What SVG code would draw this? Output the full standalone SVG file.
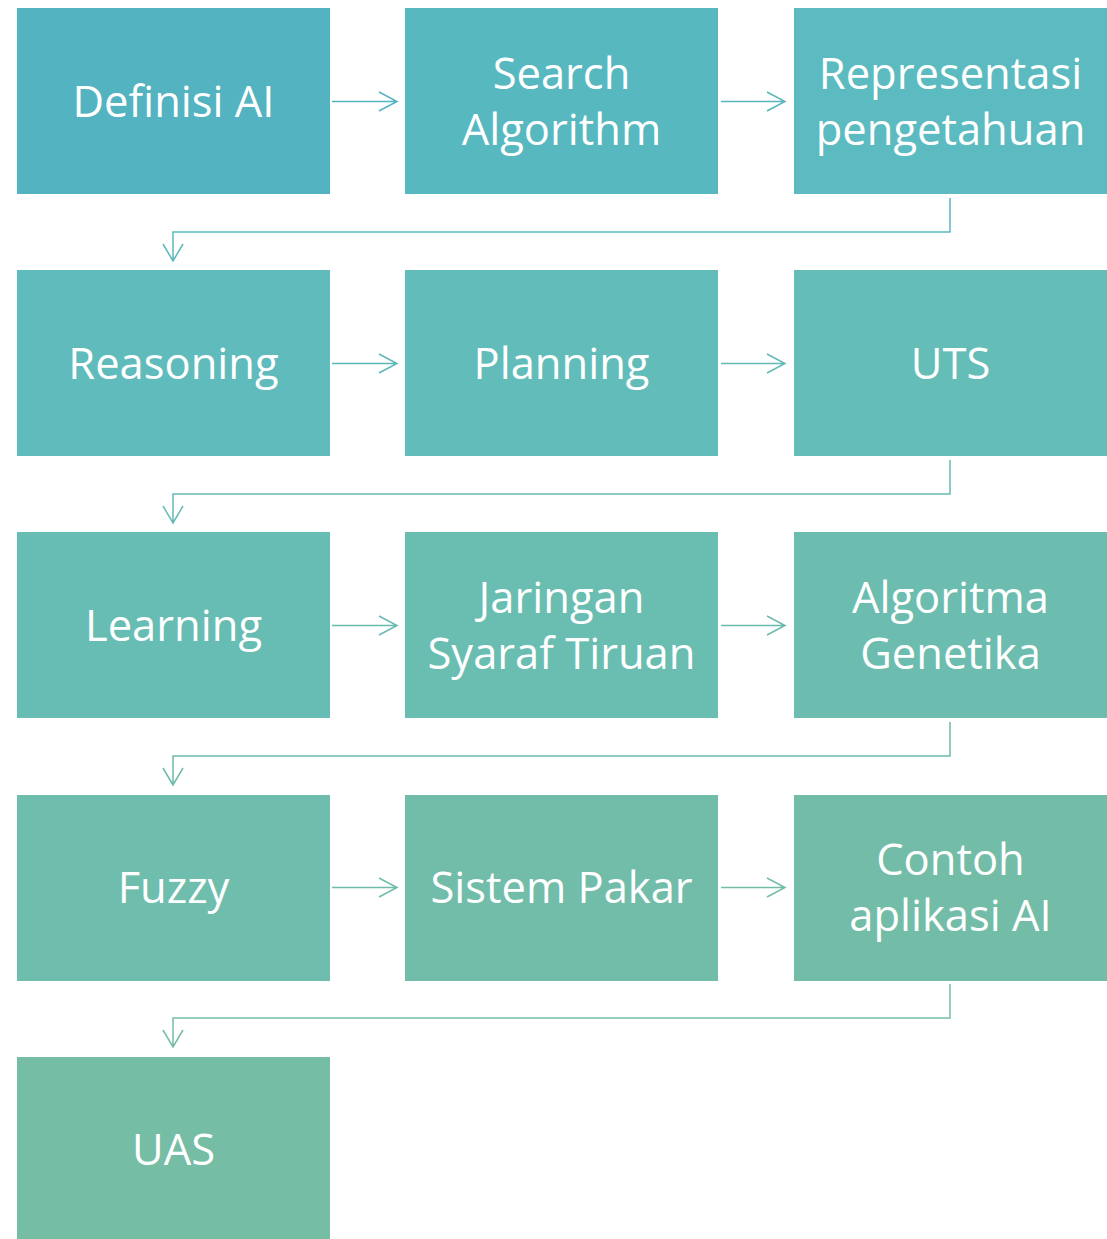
<svg xmlns="http://www.w3.org/2000/svg" width="1107" height="1239" viewBox="0 0 1107 1239">
<style>
text{font-family:"Open Sans","Liberation Sans",sans-serif;font-size:43.5px;fill:#fff;text-anchor:middle}
.c{fill:none;stroke-width:1.5}
</style>
<rect width="1107" height="1239" fill="#fff"/>
<g id="connectors">
<path class="c" stroke="#55B4BF" d="M332 101.5H397M379 92L397 101.5L379 111"/>
<path class="c" stroke="#59B6BC" d="M721 101.5H785M767 92L785 101.5L767 111"/>
<path class="c" stroke="#5CB8BA" d="M950 198V232H173V261M163 244L173 261L183 244"/>
<path class="c" stroke="#5FB8B7" d="M332 363.5H397M379 354L397 363.5L379 373"/>
<path class="c" stroke="#62B9B5" d="M721 363.5H785M767 354L785 363.5L767 373"/>
<path class="c" stroke="#65BAB3" d="M950 460V494H173V523M163 506L173 523L183 506"/>
<path class="c" stroke="#67BAB0" d="M332 625.5H397M379 616L397 625.5L379 635"/>
<path class="c" stroke="#6ABAAE" d="M721 625.5H785M767 616L785 625.5L767 635"/>
<path class="c" stroke="#6DBBAC" d="M950 722V756H173V785M163 768L173 785L183 768"/>
<path class="c" stroke="#70BCAA" d="M332 887.5H397M379 878L397 887.5L379 897"/>
<path class="c" stroke="#73BCA7" d="M721 887.5H785M767 878L785 887.5L767 897"/>
<path class="c" stroke="#75BDA6" d="M950 984V1018H173V1047M163 1030L173 1047L183 1030"/>
</g>
<g id="n1"><rect x="17" y="8" width="313" height="186" fill="#53B3C0"/><text x="173.5" y="117">Definisi AI</text></g>
<g id="n2"><rect x="405" y="8" width="313" height="186" fill="#58B8C0"/><text x="561.5" y="89">Search</text><text x="561.5" y="145">Algorithm</text></g>
<g id="n3"><rect x="794" y="8" width="313" height="186" fill="#5CBBC0"/><text x="950.5" y="89">Representasi</text><text x="950.5" y="145">pengetahuan</text></g>
<g id="n4"><rect x="17" y="270" width="313" height="186" fill="#5FBBBC"/><text x="173.5" y="379">Reasoning</text></g>
<g id="n5"><rect x="405" y="270" width="313" height="186" fill="#62BDBA"/><text x="561.5" y="379">Planning</text></g>
<g id="n6"><rect x="794" y="270" width="313" height="186" fill="#65BDB7"/><text x="950.5" y="379">UTS</text></g>
<g id="n7"><rect x="17" y="532" width="313" height="186" fill="#67BDB3"/><text x="173.5" y="641">Learning</text></g>
<g id="n8"><rect x="405" y="532" width="313" height="186" fill="#6ABDB1"/><text x="561.5" y="613">Jaringan</text><text x="561.5" y="669">Syaraf Tiruan</text></g>
<g id="n9"><rect x="794" y="532" width="313" height="186" fill="#6CBDAF"/><text x="950.5" y="613">Algoritma</text><text x="950.5" y="669">Genetika</text></g>
<g id="n10"><rect x="17" y="795" width="313" height="186" fill="#6FBDAC"/><text x="173.5" y="903">Fuzzy</text></g>
<g id="n11"><rect x="405" y="795" width="313" height="186" fill="#71BDAA"/><text x="561.5" y="903">Sistem Pakar</text></g>
<g id="n12"><rect x="794" y="795" width="313" height="186" fill="#73BDA8"/><text x="950.5" y="875">Contoh</text><text x="950.5" y="931">aplikasi AI</text></g>
<g id="n13"><rect x="17" y="1057" width="313" height="182" fill="#76BDA5"/><text x="173.5" y="1165">UAS</text></g>
</svg>
